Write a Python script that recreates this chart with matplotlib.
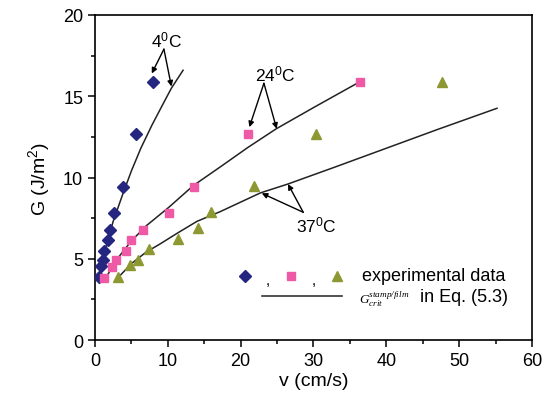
import matplotlib
matplotlib.use("Agg")
import matplotlib.pyplot as plt
from matplotlib.ticker import MultipleLocator

plt.rcParams["font.family"] = ["Liberation Sans", "DejaVu Sans"]
plt.rcParams["mathtext.default"] = "regular"

v_4 = [0.5, 0.8, 1.1, 1.3, 1.8, 2.1, 2.6, 3.8, 5.7, 8.0]
g_4 = [3.85, 4.55, 4.9, 5.5, 6.15, 6.8, 7.8, 9.4, 12.65, 15.9]
v_24 = [1.2, 2.4, 2.9, 4.3, 5.0, 6.6, 10.1, 13.6, 21.0, 36.4]
g_24 = [3.8, 4.5, 4.9, 5.5, 6.15, 6.8, 7.8, 9.4, 12.7, 15.9]
v_37 = [3.1, 4.8, 5.95, 7.45, 11.4, 14.1, 15.9, 21.8, 30.4, 47.6]
g_37 = [3.85, 4.6, 4.9, 5.6, 6.2, 6.87, 7.86, 9.46, 12.7, 15.9]

# model curves (Eq. 5.3)
fit_v_4 = [0.6, 1.5, 2.5, 3.8, 5.0, 6.3, 7.8, 9.2, 10.5, 12.1]
fit_g_4 = [3.7, 5.7, 7.3, 8.95, 10.4, 11.8, 13.2, 14.4, 15.5, 16.6]
fit_v_24 = [1.4, 2.9, 5.0, 7.1, 10.1, 13.5, 17.2, 21.0, 24.9, 30.0, 36.4]
fit_g_24 = [3.75, 4.9, 6.1, 7.05, 8.15, 9.5, 10.65, 11.85, 13.0, 14.3, 15.9]
fit_v_37 = [3.2, 5.0, 7.0, 8.9, 11.4, 14.0, 17.2, 22.7, 26.5, 33.0, 40.0, 47.0, 55.2]
fit_g_37 = [3.85, 4.7, 5.4, 5.9, 6.6, 7.3, 7.9, 9.05, 9.6, 10.65, 11.8, 12.95, 14.26]

BLUE, PINK, OLIVE = "#25267f", "#ee5aa6", "#8e9833"

fig = plt.figure(figsize=(5.52, 4.02), dpi=100)
ax = fig.add_axes([0.172, 0.1517, 0.7917, 0.8085])

for fv, fg in [(fit_v_4, fit_g_4), (fit_v_24, fit_g_24), (fit_v_37, fit_g_37)]:
    ax.plot(fv, fg, color="#222222", lw=1.1, zorder=2)

ax.plot(v_4, g_4, "D", color=BLUE, ms=6.5, ls="none", zorder=3)
ax.plot(v_24, g_24, "s", color=PINK, ms=5.5, ls="none", zorder=3)
ax.plot(v_37, g_37, "^", color=OLIVE, ms=7.5, ls="none", zorder=3)

# temperature labels with arrows
arrow = dict(arrowstyle="-|>", color="black", lw=1.0, mutation_scale=8,
             shrinkA=0, shrinkB=0)
labels = [("4$^0$C", (9.75, 18.5), (9.47, 17.9), [(7.8, 16.4), (10.5, 15.6)]),
          ("24$^0$C", (24.7, 16.4), (23.2, 15.8), [(21.2, 13.1), (24.95, 13.0)]),
          ("37$^0$C", (30.4, 7.1), (28.6, 7.86), [(22.9, 9.03), (26.5, 9.6)])]
for txt, pos, start, tips in labels:
    ax.text(pos[0], pos[1], txt, ha="center", va="center", fontsize=12.5)
    for tip in tips:
        ax.annotate("", xy=tip, xytext=start, arrowprops=arrow)

# hand-made legend, in axes coordinates
tr = ax.transAxes
ax.plot([0.343], [0.197], "D", color=BLUE, ms=6.5, transform=tr)
ax.plot([0.449], [0.197], "s", color=PINK, ms=5.5, transform=tr)
ax.plot([0.554], [0.197], "^", color=OLIVE, ms=7.5, transform=tr)
ax.text(0.396, 0.185, ",", transform=tr, ha="center", va="center", fontsize=11)
ax.text(0.501, 0.185, ",", transform=tr, ha="center", va="center", fontsize=11)
ax.text(0.611, 0.197, "experimental data", transform=tr, va="center", fontsize=13)
ax.plot([0.382, 0.565], [0.135, 0.135], color="#222222", lw=1.1, transform=tr)
ax.text(0.605, 0.128, "$G_{crit}^{stamp/film}$", transform=tr, va="center",
        fontsize=9.5, family="Liberation Serif", style="italic")
ax.text(0.744, 0.135, "in Eq. (5.3)", transform=tr, va="center", fontsize=13)

ax.set_xlim(0, 60)
ax.set_ylim(0, 20)
ax.xaxis.set_major_locator(MultipleLocator(10))
ax.xaxis.set_minor_locator(MultipleLocator(5))
ax.yaxis.set_major_locator(MultipleLocator(5))
ax.yaxis.set_minor_locator(MultipleLocator(2.5))
ax.tick_params(which="both", direction="out", labelsize=13, width=1.1)
ax.tick_params(which="major", length=5)
ax.tick_params(which="minor", length=3)
for s in ax.spines.values():
    s.set_linewidth(1.2)
ax.set_xlabel("v (cm/s)", fontsize=14, labelpad=2)
ax.set_ylabel("G (J/m$^2$)", fontsize=14, labelpad=8)

fig.savefig("out.png", dpi=100)
